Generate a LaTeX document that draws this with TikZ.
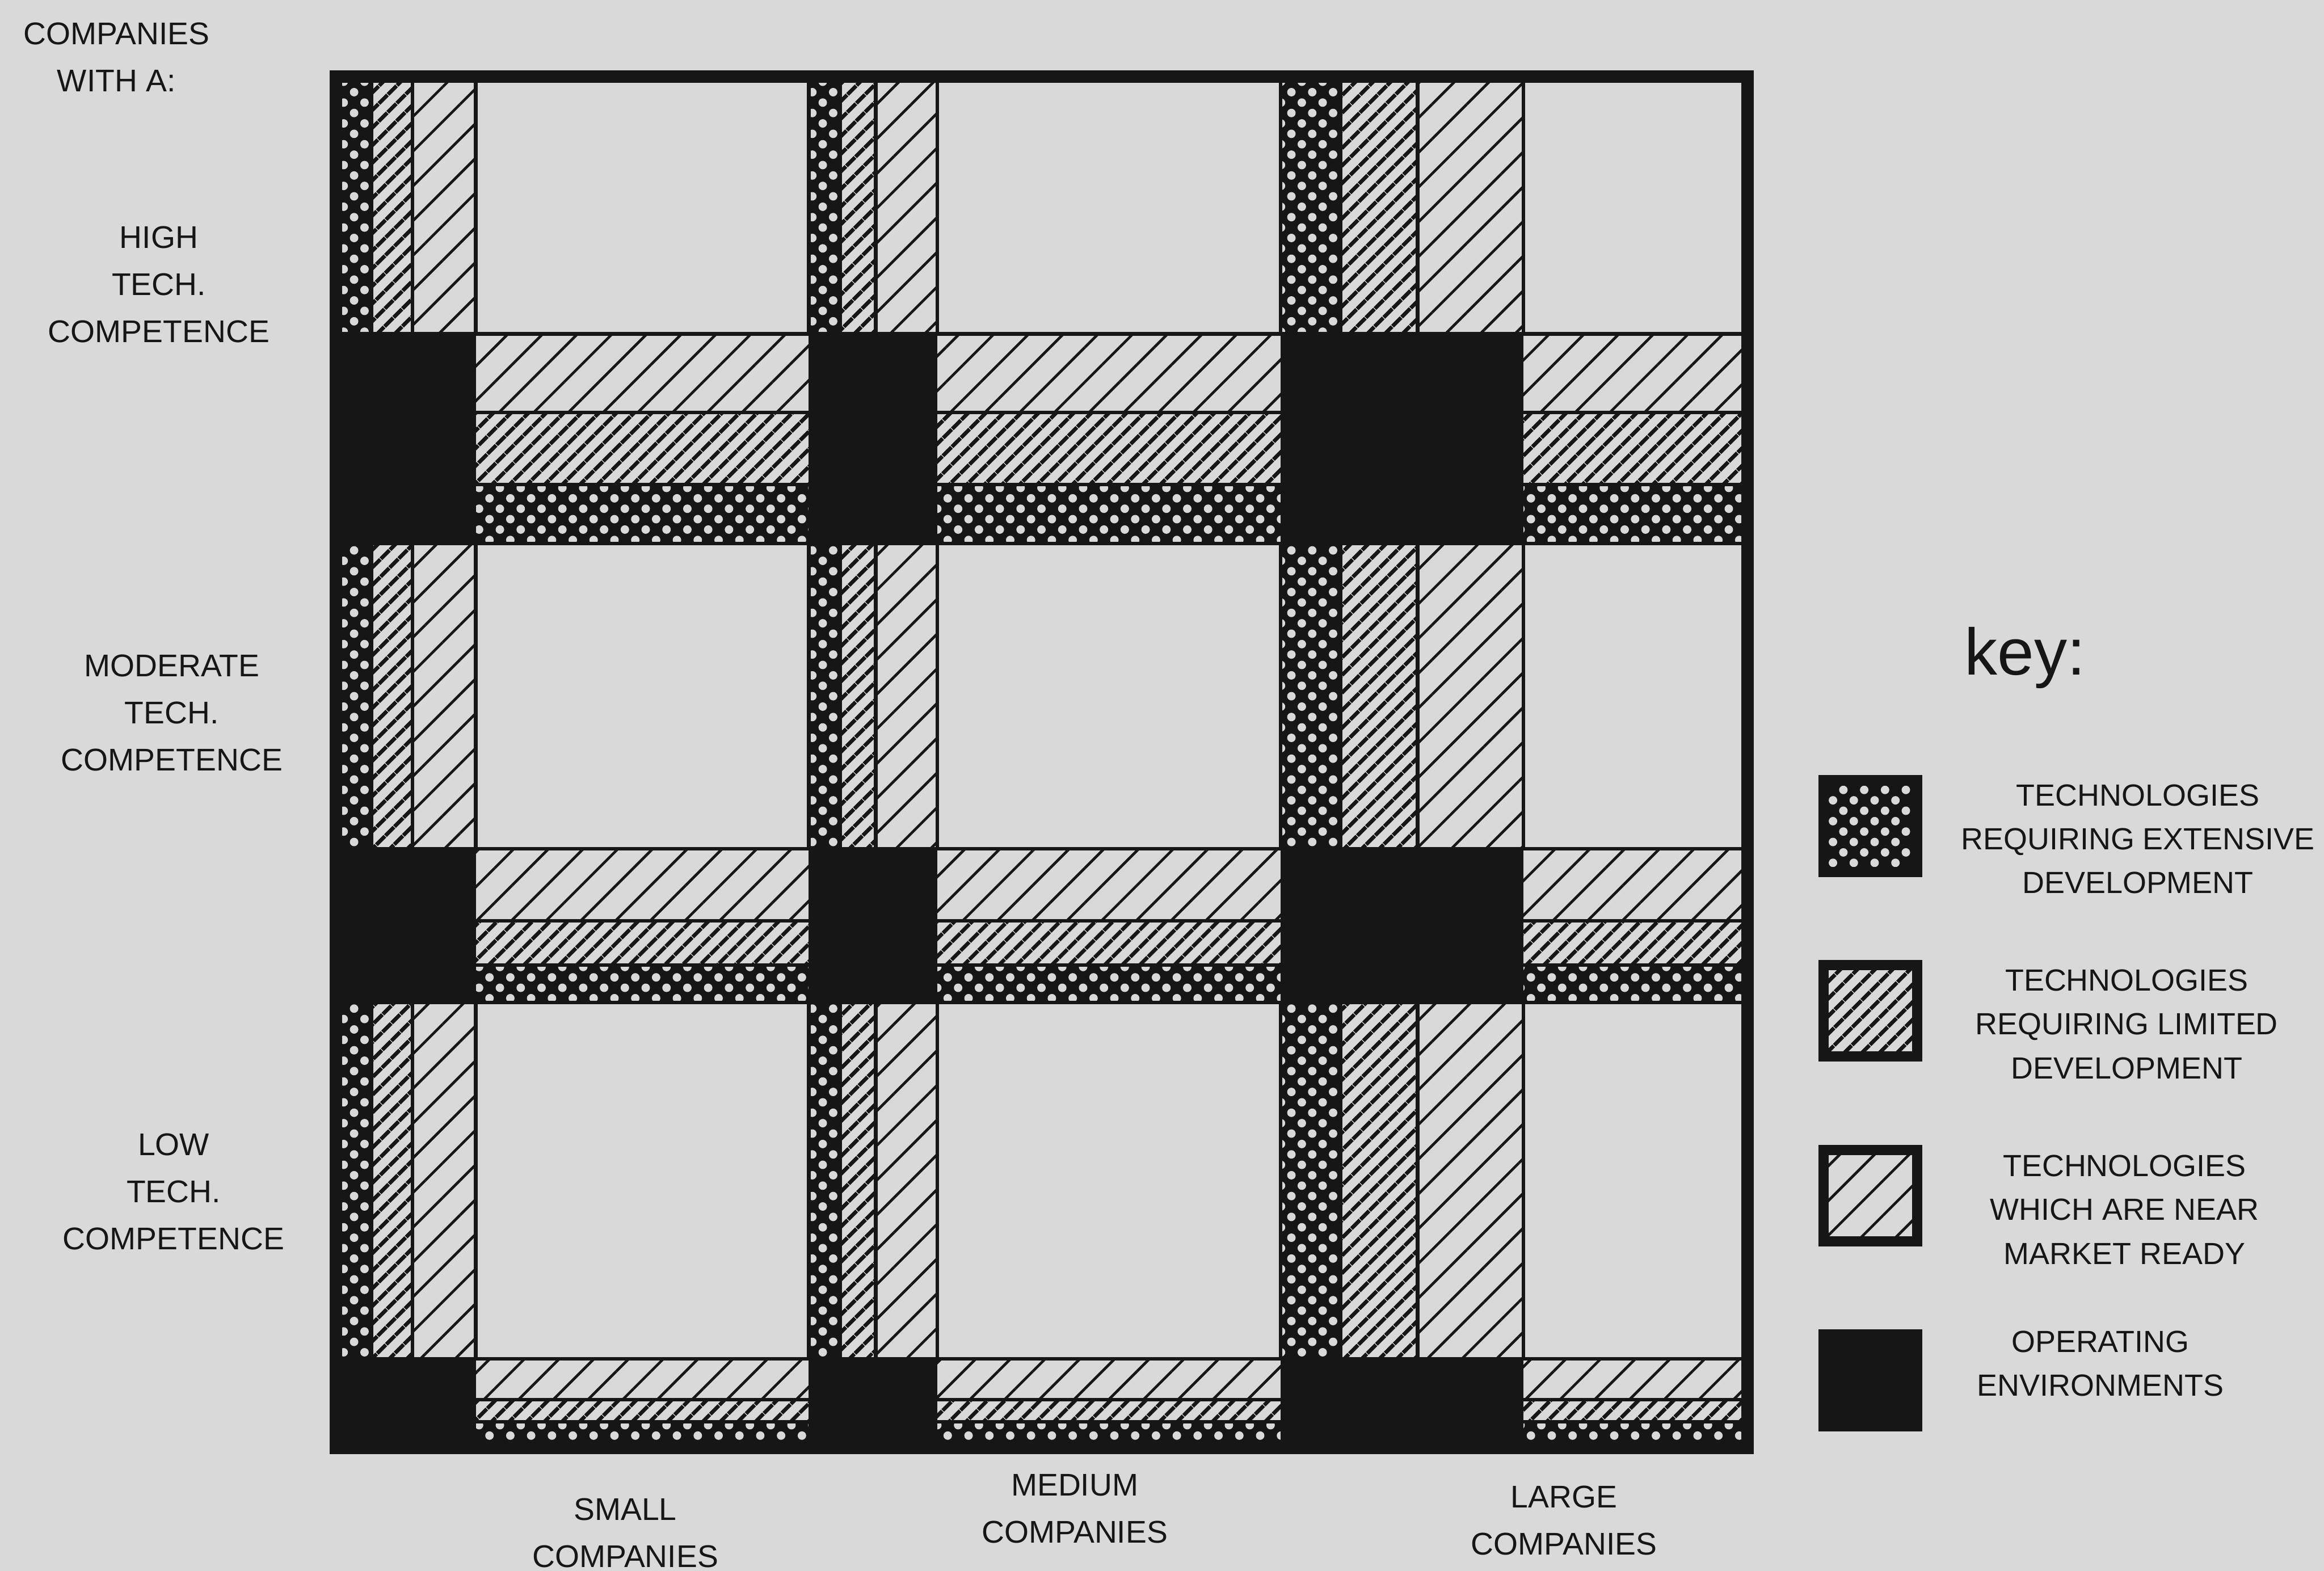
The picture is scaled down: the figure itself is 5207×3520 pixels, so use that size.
\documentclass[tikz,border=0pt]{standalone}
\usepackage{fontspec}
\setmainfont{Liberation Sans}
\usepackage{tikz}
\usetikzlibrary{patterns.meta, positioning}
\definecolor{ink}{RGB}{22, 22, 22}
\definecolor{paper}{RGB}{217, 217, 217}
\tikzset{
    band/.style={draw=ink, line width=0.8mm},
    extfill/.style={preaction={fill=ink}, pattern={Dots[distance=3.3mm, angle=45, radius=0.95mm]}, pattern color=paper},
    limfill/.style={preaction={fill=paper}, pattern={Lines[distance=2.8mm, angle=45, line width=0.9mm]}, pattern color=ink},
    nearfill/.style={preaction={fill=paper}, pattern={Lines[distance=5.5mm, angle=45, line width=0.6mm]}, pattern color=ink},
    envfill/.style={fill=ink},
    axislabel/.style={align=center, text=ink, font=\fontsize{20pt}{30pt}\selectfont},
    keybox/.style={rectangle, draw=ink, line width=2.3mm, minimum width=21mm, minimum height=20.5mm, inner sep=0pt},
    keytext/.style={align=center, text=ink, font=\fontsize{19.5pt}{28pt}\selectfont}
}

\begin{document}
\begin{tikzpicture}[x=0.1mm, y=-0.1mm]
        \path[use as bounding box, fill=paper] (0,0) rectangle (5207,3520);

        % vertical bands (small, medium, large companies)
        \path[band, extfill] (752,172) rectangle (832,3244);
        \path[band, limfill] (832,172) rectangle (924,3244);
        \path[band, nearfill] (924,172) rectangle (1066,3244);
        \path[band, extfill] (1812,172) rectangle (1882,3244);
        \path[band, limfill] (1882,172) rectangle (1962,3244);
        \path[band, nearfill] (1962,172) rectangle (2100,3244);
        \path[band, extfill] (2869,172) rectangle (3004,3244);
        \path[band, limfill] (3004,172) rectangle (3176,3244);
        \path[band, nearfill] (3176,172) rectangle (3413,3244);

        % horizontal bands (high, moderate, low competence)
        \path[band, nearfill] (752,748) rectangle (3915,924);
        \path[band, limfill] (752,924) rectangle (3915,1086);
        \path[band, extfill] (752,1086) rectangle (3915,1218);
        \path[band, nearfill] (752,1902) rectangle (3915,2063);
        \path[band, limfill] (752,2063) rectangle (3915,2162);
        \path[band, extfill] (752,2162) rectangle (3915,2246);
        \path[band, nearfill] (752,3045) rectangle (3915,3136);
        \path[band, limfill] (752,3136) rectangle (3915,3186);
        \path[band, extfill] (752,3186) rectangle (3915,3244);

        % operating environments
        \fill[envfill] (752,748) rectangle (1066,1218);
        \fill[envfill] (1812,748) rectangle (2100,1218);
        \fill[envfill] (2869,748) rectangle (3413,1218);
        \fill[envfill] (752,1902) rectangle (1066,2246);
        \fill[envfill] (1812,1902) rectangle (2100,2246);
        \fill[envfill] (2869,1902) rectangle (3413,2246);
        \fill[envfill] (752,3045) rectangle (1066,3244);
        \fill[envfill] (1812,3045) rectangle (2100,3244);
        \fill[envfill] (2869,3045) rectangle (3413,3244);

        \draw[ink, line width=2.8mm] (752,172) rectangle (3915,3244);

        % axis labels
        \node[axislabel] (corner) at (261,128) {COMPANIES\\WITH A:};
        \node[axislabel] (high) at (356,638) {HIGH\\TECH.\\COMPETENCE};
        \node[axislabel] (moderate) at (385,1597) {MODERATE\\TECH.\\COMPETENCE};
        \node[axislabel] (low) at (389,2670) {LOW\\TECH.\\COMPETENCE};
        \node[axislabel] (small) at (1401,3435) {SMALL\\COMPANIES};
        \node[axislabel] (medium) at (2408,3381) {MEDIUM\\COMPANIES};
        \node[axislabel] (large) at (3504,3407) {LARGE\\COMPANIES};

        % key
        \node[anchor=base, text=ink, font=\fontsize{42pt}{50pt}\selectfont] (keytitle) at (4537,1512) {key:};
        \node[keybox, extfill] (kext) at (4191,1851) {};
        \node[keybox, limfill, below=18.6mm of kext] (klim) {};
        \node[keybox, nearfill, below=18.6mm of klim] (knear) {};
        \node[keybox, envfill, below=18.6mm of knear] (kenv) {};
        \node[keytext] (text1) at (4790,1880) {TECHNOLOGIES\\REQUIRING EXTENSIVE\\DEVELOPMENT};
        \node[keytext] (text2) at (4765,2295) {TECHNOLOGIES\\REQUIRING LIMITED\\DEVELOPMENT};
        \node[keytext] (text3) at (4760,2710) {TECHNOLOGIES\\WHICH ARE NEAR\\MARKET READY};
        \node[keytext] (text4) at (4706,3055) {OPERATING\\ENVIRONMENTS};

    \end{tikzpicture}
\end{document}
